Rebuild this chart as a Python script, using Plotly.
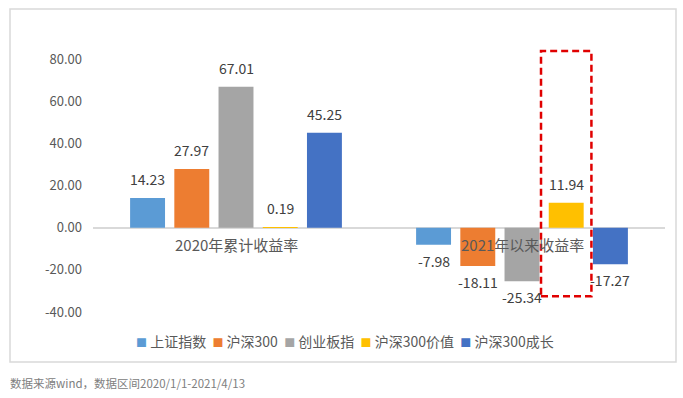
import plotly.graph_objects as go

# ---- data ----
categories = ["2020年累计收益率", "2021年以来收益率"]
series_names = ["上证指数", "沪深300", "创业板指", "沪深300价值", "沪深300成长"]
values_2020 = [14.23, 27.97, 67.01, 0.19, 45.25]
values_2021 = [-7.98, -18.11, -25.34, 11.94, -17.27]
y_ticks = [-40, -20, 0, 20, 40, 60, 80]

colors = ["#5B9BD5", "#ED7D31", "#A5A5A5", "#FFC000", "#4472C4"]
FONT = "Noto Sans CJK SC"

W, H = 683, 398
ML, MR, MT, MB = 93, 18, 49, 86
PW, PH = W - ML - MR, H - MT - MB
BARGAP, GROUPGAP = 0.227, 0.21


def px_x(px):
    return (px - ML) / PW


def px_y(py):
    return (H - MB - py) / PH


fig = go.Figure()
xs = list(range(len(categories)))
for i, name in enumerate(series_names):
    fig.add_trace(go.Bar(
        x=xs, y=[values_2020[i], values_2021[i]], name=name,
        marker=dict(color=colors[i], line=dict(width=0)),
        showlegend=False, hoverinfo="y+name",
    ))

annotations = []
slot = (1 - BARGAP) / len(series_names)
for i in range(len(series_names)):
    for j, v in enumerate([values_2020[i], values_2021[i]]):
        pos = v >= 0
        annotations.append(dict(
            x=j + (i - (len(series_names) - 1) / 2) * slot, y=v,
            xref="x", yref="y", text=f"{v:.2f}", showarrow=False,
            yanchor="bottom" if pos else "top", yshift=7 if pos else -4,
            font=dict(family=FONT, size=14, color="#404040"),
        ))

# category labels beside the zero line
for j, c in enumerate(categories):
    annotations.append(dict(
        x=j, y=0, xref="x", yref="y", text=c, showarrow=False,
        yanchor="top", yshift=-4,
        font=dict(family=FONT, size=15, color="#595959"),
    ))

# legend row
legend_text = "  ".join(
    f"<span style='color:{c};font-size:11px'>■</span> {n}" for n, c in zip(series_names, colors)
)
annotations.append(dict(
    x=px_x(345), y=px_y(341), xref="paper", yref="paper", text=legend_text,
    showarrow=False, xanchor="center", yanchor="middle",
    font=dict(family=FONT, size=14, color="#595959"),
))

# footer note
annotations.append(dict(
    x=px_x(8), y=px_y(383), xref="paper", yref="paper",
    text="数据来源wind，数据区间2020/1/1-2021/4/13", showarrow=False,
    xanchor="left", yanchor="middle",
    font=dict(family=FONT, size=11.5, color="#808080"),
))

shapes = [
    # outer chart border
    dict(type="rect", xref="paper", yref="paper",
         x0=px_x(10), x1=px_x(676), y0=px_y(362), y1=px_y(9),
         line=dict(color="#D9D9D9", width=1.5), fillcolor="rgba(0,0,0,0)", layer="below"),
    # red dashed highlight around the 2021 value bar
    dict(type="rect", xref="x", yref="y",
         x0=1 + slot * (1 - 0.57), x1=1 + slot * (1 + 0.57), y0=-32.5, y1=84.1,
         line=dict(color="#E00000", width=2.5, dash="7px,4px"), fillcolor="rgba(0,0,0,0)"),
]

fig.update_layout(
    width=W, height=H,
    margin=dict(l=ML, r=MR, t=MT, b=MB),
    paper_bgcolor="white", plot_bgcolor="white",
    barmode="group", bargap=BARGAP, bargroupgap=GROUPGAP,
    font=dict(family=FONT, color="#595959"),
    xaxis=dict(range=[-0.5, 1.5], showticklabels=False, showgrid=False,
               zeroline=False, showline=False, ticks=""),
    yaxis=dict(range=[-40, 85], tickvals=y_ticks,
               ticktext=[f"{t:.2f}" for t in y_ticks],
               showgrid=False, zeroline=True, zerolinecolor="#D9D9D9", zerolinewidth=1.5,
               showline=False, ticks="", ticklabelstandoff=10,
               tickfont=dict(family=FONT, size=13, color="#595959")),
    annotations=annotations,
    shapes=shapes,
)

fig.write_html("out.html", config={"displayModeBar": False},
               post_script="document.body.style.margin='0';document.body.style.overflow='hidden';")
